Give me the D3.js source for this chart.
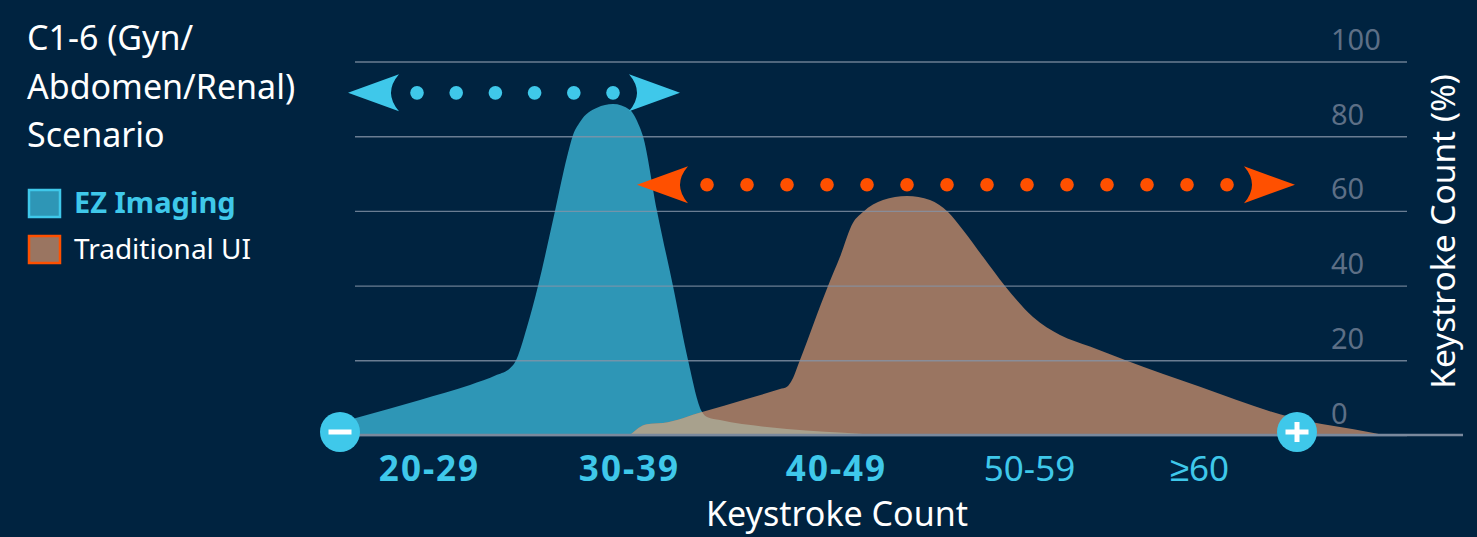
<!DOCTYPE html>
<html>
<head>
<meta charset="utf-8">
<script src="https://cdn.jsdelivr.net/npm/d3@7"></script>
<style>
  html, body { margin: 0; padding: 0; background: #002340; overflow: hidden; }
  text { font-family: "Noto Sans", sans-serif; }
</style>
</head>
<body>
<div id="vis"></div>
<script>
// create frame
const FRAME_WIDTH = 1477;
const FRAME_HEIGHT = 537;

const BG = "#002340";
const BLUE = "#3fc8ea";
const ORANGE = "#ff5000";

// values
const ezKeys = [20.8, 24.05, 26.55, 27.9, 28.55, 28.8, 29.4, 29.95, 30.8, 31.4, 31.7, 32.05, 32.9, 33.7, 34.55, 34.95, 35.2, 35.9, 36.7, 37.45, 38.15, 38.4, 39.05, 42.4, 46.2, 47];
const ezPct = [4.5, 9.4, 13.4, 16.1, 17.9, 19.5, 28.9, 39.9, 60, 74.4, 80.3, 83.8, 87.6, 88.6, 87, 83.5, 80, 60, 39.9, 20.1, 6.2, 4.8, 4, 1.6, 0.3, 0];
const tradKeys = [34.55, 35.4, 36.2, 38.2, 40.3, 42.05, 42.4, 42.65, 43.05, 44.45, 45.05, 45.7, 46.2, 47.2, 48.4, 49.55, 50.45, 51.2, 52.2, 53.3, 54.7, 56.05, 57.55, 59.3, 63.05, 67.55, 71.8, 72.3];
const tradPct = [0, 2.9, 3.2, 6.2, 9.5, 12.3, 12.9, 14.7, 20.1, 39.9, 47.7, 56.8, 59.7, 62.9, 64, 62.9, 59.7, 54.9, 47.7, 39.9, 31.6, 26.8, 23.7, 20.1, 12.9, 4.8, 0.5, 0];

const yTicks = [0, 20, 40, 60, 80, 100];
const xLabels = ["20-29", "30-39", "40-49", "50-59", "≥60"];
const xLabelKeys = [24.5, 34.5, 44.85, 54.5, 63];
const boldLabels = ["20-29", "30-39", "40-49"];
const titleLines = ["C1-6 (Gyn/", "Abdomen/Renal)", "Scenario"];

const X_SCALE = d3.scaleLinear().domain([20, 70]).range([339, 1339]);
const Y_SCALE = d3.scaleLinear().domain([0, 100]).range([435, 61.5]);

const FRAME = d3.select("#vis")
  .append("svg")
    .attr("width", FRAME_WIDTH)
    .attr("height", FRAME_HEIGHT)
    .style("display", "block");

FRAME.append("rect")
    .attr("width", FRAME_WIDTH)
    .attr("height", FRAME_HEIGHT)
    .attr("fill", BG);

const area = d3.area()
    .x(d => X_SCALE(d[0]))
    .y0(Y_SCALE(0))
    .y1(d => Y_SCALE(d[1]))
    .curve(d3.curveMonotoneX);

const ezData = d3.zip(ezKeys, ezPct);
const tradData = d3.zip(tradKeys, tradPct);

FRAME.append("clipPath").attr("id", "ez-clip")
  .append("path").attr("d", area(ezData));

FRAME.append("path").attr("d", area(ezData)).attr("fill", "#2e96b6");
FRAME.append("path").attr("d", area(tradData)).attr("fill", "#9a7561");
// overlap of the two areas is lighter than either one
FRAME.append("path").attr("d", area(tradData))
    .attr("fill", "#a8a18d")
    .attr("clip-path", "url(#ez-clip)");

// y axis, gridlines come from the ticks
const yAxis = FRAME.append("g")
    .attr("transform", "translate(355,0)")
    .call(d3.axisRight(Y_SCALE).tickValues(yTicks).tickSize(1052));
yAxis.select(".domain").remove();
yAxis.selectAll("line").attr("stroke", "#8494a8").attr("stroke-opacity", 0.8).attr("stroke-width", 1.4);
yAxis.selectAll("text")
    .attr("x", 976)
    .attr("dy", -12)
    .attr("text-anchor", "start")
    .attr("fill", "#5d6f86")
    .attr("font-size", 29)
    .attr("font-family", "Noto Sans");

// baseline runs further right than the gridlines
FRAME.append("line")
    .attr("x1", 355).attr("x2", 1463)
    .attr("y1", Y_SCALE(0)).attr("y2", Y_SCALE(0))
    .attr("stroke", "#7a899d").attr("stroke-width", 2.5);

// x axis labels
const xAxis = FRAME.append("g")
    .attr("transform", "translate(0," + Y_SCALE(0) + ")")
    .call(d3.axisBottom(X_SCALE).tickValues(xLabelKeys).tickSize(0)
      .tickFormat((d, i) => xLabels[i]));
xAxis.select(".domain").remove();
xAxis.selectAll("text")
    .attr("y", 21)
    .attr("fill", BLUE)
    .attr("font-size", 35)
    .attr("font-family", "Noto Sans")
    .attr("letter-spacing", (d, i) => boldLabels.includes(xLabels[i]) ? 2 : 0)
    .attr("font-weight", (d, i) => boldLabels.includes(xLabels[i]) ? 700 : 400);

FRAME.append("text")
    .attr("x", 837).attr("y", 526)
    .attr("text-anchor", "middle")
    .attr("fill", "#fff")
    .attr("font-size", 34)
    .text("Keystroke Count");

FRAME.append("text")
    .attr("transform", "translate(1455,231.5) rotate(-90)")
    .attr("text-anchor", "middle")
    .attr("fill", "#fff")
    .attr("font-size", 33.5)
    .text("Keystroke Count (%)");

// title
FRAME.append("g").selectAll("text")
  .data(titleLines)
  .enter()
  .append("text")
    .attr("x", 27)
    .attr("y", (d, i) => 50 + i * 48.5)
    .attr("fill", "#fff")
    .attr("font-size", 34)
    .text(d => d);

// legend
const legendRows = [
  {name: "EZ Imaging", fill: "#2e96b6", stroke: BLUE, text: BLUE, weight: 700, size: 29, y: 189},
  {name: "Traditional UI", fill: "#9a7561", stroke: ORANGE, text: "#fff", weight: 400, size: 28, y: 235}
];
const legend = FRAME.append("g").selectAll("g")
  .data(legendRows)
  .enter()
  .append("g")
    .attr("transform", d => "translate(28," + d.y + ")");
legend.append("rect")
    .attr("x", 1).attr("y", 1)
    .attr("width", 31).attr("height", 27)
    .attr("fill", d => d.fill)
    .attr("stroke", d => d.stroke)
    .attr("stroke-width", 2.5);
legend.append("text")
    .attr("x", 46).attr("y", 24)
    .attr("fill", d => d.text)
    .attr("font-weight", d => d.weight)
    .attr("font-size", d => d.size)
    .text(d => d.name);

// range arrows with dots
function rangeArrow(fromKey, toKey, pct, firstDot, lastDot, count, color) {
  const g = FRAME.append("g").attr("fill", color);
  const y = Y_SCALE(pct);
  const head = (tip, dir) => "M" + tip + "," + y +
    "L" + (tip + dir * 51) + "," + (y - 18.5) +
    "Q" + (tip + dir * 35) + "," + y + " " + (tip + dir * 51) + "," + (y + 18.5) + "Z";
  g.append("path").attr("d", head(X_SCALE(fromKey), 1));
  g.append("path").attr("d", head(X_SCALE(toKey), -1));
  const dots = d3.scalePoint().domain(d3.range(count)).range([X_SCALE(firstDot), X_SCALE(lastDot)]);
  g.selectAll("circle")
    .data(d3.range(count))
    .enter()
    .append("circle")
      .attr("cx", d => dots(d))
      .attr("cy", y)
      .attr("r", 6.8);
}
rangeArrow(20.45, 37.05, 91.6, 23.9, 33.7, 6, BLUE);
rangeArrow(34.9, 67.8, 67, 38.4, 64.4, 14, ORANGE);

// minus and plus buttons
const buttons = [{x: 340, sign: "minus"}, {x: 1297, sign: "plus"}];
buttons.forEach((b) => {
  const g = FRAME.append("g").attr("transform", "translate(" + b.x + ",432)");
  g.append("circle").attr("r", 20).attr("fill", BLUE);
  g.append("rect").attr("x", -11.5).attr("y", -2.5).attr("width", 23).attr("height", 5).attr("fill", "#fff");
  if (b.sign === "plus") {
    g.append("rect").attr("x", -2.5).attr("y", -10).attr("width", 5).attr("height", 20).attr("fill", "#fff");
  }
});
</script>
</body>
</html>
